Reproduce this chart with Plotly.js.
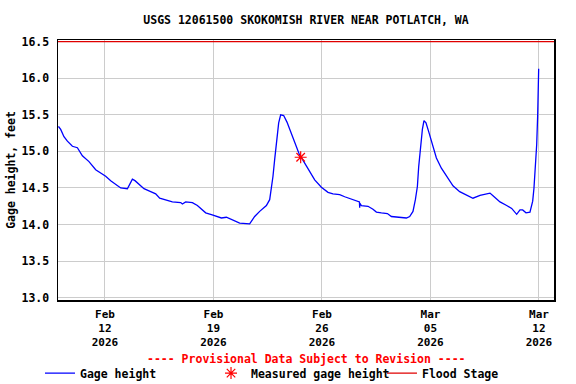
<!DOCTYPE html>
<html>
<head>
<meta charset="utf-8">
<script src="https://cdn.plot.ly/plotly-3.0.1.min.js"></script>
<style>html,body{margin:0;padding:0;background:#fff}#chart{width:576px;height:384px}</style>
</head>
<body>
<div id="chart"></div>
<script>
// Gage height record (time, feet)
const gageTimes = [
'2026-02-09 00:00','2026-02-09 03:24','2026-02-09 08:30','2026-02-09 13:47','2026-02-09 21:32',
'2026-02-10 05:15','2026-02-10 13:00','2026-02-10 23:14','2026-02-11 09:36','2026-02-11 17:21',
'2026-02-12 01:05','2026-02-12 08:50','2026-02-12 16:34','2026-02-13 00:19','2026-02-13 10:41',
'2026-02-13 14:15','2026-02-13 18:26','2026-02-13 22:26','2026-02-14 04:39','2026-02-14 12:23',
'2026-02-14 22:45','2026-02-15 06:30','2026-02-15 12:42','2026-02-15 22:00','2026-02-16 08:21',
'2026-02-16 21:13','2026-02-16 23:51','2026-02-17 04:57','2026-02-17 15:20','2026-02-17 23:04',
'2026-02-18 06:49','2026-02-18 11:56','2026-02-18 23:14','2026-02-19 12:14','2026-02-19 19:58',
'2026-02-20 06:11','2026-02-20 16:34','2026-02-21 08:02','2026-02-21 15:47','2026-02-21 23:32',
'2026-02-22 09:55','2026-02-22 15:01','2026-02-22 17:38','2026-02-22 20:08','2026-02-22 22:45',
'2026-02-23 02:19','2026-02-23 04:57','2026-02-23 08:02','2026-02-23 12:41','2026-02-23 17:48',
'2026-02-23 23:04','2026-02-24 05:44','2026-02-24 12:23','2026-02-24 21:13','2026-02-25 04:57',
'2026-02-25 12:42','2026-02-25 23:04','2026-02-26 09:17','2026-02-26 17:02','2026-02-27 03:24',
'2026-02-27 11:10','2026-02-27 21:32','2026-02-28 07:45','2026-02-28 10:00','2026-02-28 10:22',
'2026-02-28 10:45','2026-02-28 13:00','2026-02-28 23:14','2026-03-01 06:58','2026-03-01 12:14',
'2026-03-01 19:58','2026-03-02 05:15','2026-03-02 11:27','2026-03-02 21:40','2026-03-03 10:41',
'2026-03-03 15:47','2026-03-03 20:54','2026-03-04 00:37','2026-03-04 03:43','2026-03-04 05:44',
'2026-03-04 08:50','2026-03-04 11:27','2026-03-04 13:56','2026-03-04 17:02','2026-03-04 21:13',
'2026-03-05 02:19','2026-03-05 09:08','2026-03-05 16:52','2026-03-06 00:37','2026-03-06 10:50',
'2026-03-06 21:13','2026-03-07 07:35','2026-03-07 17:48','2026-03-08 04:39','2026-03-08 12:23',
'2026-03-08 20:08','2026-03-09 01:15','2026-03-09 11:37','2026-03-09 21:59','2026-03-10 05:44',
'2026-03-10 13:28','2026-03-10 18:35','2026-03-10 22:45','2026-03-11 03:52','2026-03-11 10:03',
'2026-03-11 14:15','2026-03-11 16:15','2026-03-11 18:15','2026-03-11 20:27','2026-03-11 22:00',
'2026-03-11 22:55','2026-03-11 23:32'
];
const gageHeight = [
15.34,15.30,15.20,15.14,15.07,
15.05,14.94,14.86,14.75,14.71,
14.66,14.60,14.55,14.50,14.49,
14.56,14.62,14.60,14.55,14.49,
14.45,14.42,14.36,14.34,14.31,
14.30,14.28,14.31,14.30,14.26,
14.20,14.16,14.13,14.09,14.10,
14.06,14.02,14.01,14.11,14.18,
14.26,14.34,14.48,14.66,14.89,
15.20,15.39,15.50,15.49,15.40,
15.27,15.11,14.97,14.84,14.73,
14.61,14.51,14.44,14.42,14.41,
14.38,14.35,14.32,14.31,14.23,
14.29,14.26,14.25,14.21,14.17,
14.16,14.15,14.11,14.10,14.09,
14.11,14.18,14.34,14.52,14.79,
15.11,15.30,15.42,15.39,15.27,
15.11,14.91,14.77,14.66,14.53,
14.45,14.41,14.36,14.40,14.41,
14.43,14.39,14.31,14.26,14.22,
14.14,14.20,14.20,14.16,14.17,
14.32,14.50,14.77,15.09,15.50,
15.86,16.13
];
// Field measurement
const measuredTimes = ['2026-02-24 15:00'];
const measuredHeight = [14.92];
// Flood stage
const floodTimes = ['2026-02-08 23:15','2026-03-12 23:15'];
const floodStage = [16.5, 16.5];
// Axes
const xRange = ['2026-02-08 23:15','2026-03-12 23:15'];
const xTickVals = ['2026-02-12','2026-02-19','2026-02-26','2026-03-05','2026-03-12'];
const xTickText = ['Feb<br>12<br>2026','Feb<br>19<br>2026','Feb<br>26<br>2026','Mar<br>05<br>2026','Mar<br>12<br>2026'];
const yTickVals = [13.0,13.5,14.0,14.5,15.0,15.5,16.0,16.5];
const yTickText = ['13.0','13.5','14.0','14.5','15.0','15.5','16.0','16.5'];

const F = 'DejaVu Sans Mono, Liberation Mono, monospace';
const fnt = {family: F, size: 11.5, color: '#000', weight: 'bold'};
const xfnt = {family: F, size: 11, color: '#000', weight: 'bold'};

const traces = [
  {x: floodTimes, y: floodStage, type: 'scatter', mode: 'lines', name: 'Flood Stage',
   line: {color: '#e00000', width: 1.3}, legend: 'legend3', hoverinfo: 'skip'},
  {x: gageTimes, y: gageHeight, type: 'scatter', mode: 'lines', name: 'Gage height',
   line: {color: '#0000ff', width: 1.3}, legend: 'legend'},
  {x: measuredTimes, y: measuredHeight, type: 'scatter', mode: 'markers', name: 'Measured gage height',
   marker: {symbol: 'asterisk-open', size: 10, color: '#ff0000', line: {color: '#ff0000', width: 1.2}},
   legend: 'legend2'}
];

const legBase = {orientation: 'h', yanchor: 'middle', xanchor: 'left', y: -0.281,
  font: fnt, bgcolor: 'rgba(0,0,0,0)', borderwidth: 0};

const layout = {
  width: 576, height: 384,
  margin: {l: 58, r: 22, t: 40, b: 84, autoexpand: false},
  paper_bgcolor: '#fff', plot_bgcolor: '#fff',
  font: fnt,
  title: {text: 'USGS 12061500 SKOKOMISH RIVER NEAR POTLATCH, WA', font: fnt,
          x: 0.5, xref: 'paper', xanchor: 'center', y: 1 - 19.5/384, yref: 'container', yanchor: 'middle'},
  xaxis: {type: 'date', range: xRange, tickvals: xTickVals, ticktext: xTickText,
          showgrid: true, gridcolor: '#cccccc', gridwidth: 1,
          showline: true, mirror: true, linecolor: '#000', linewidth: 1.5,
          ticks: 'outside', ticklen: 3, tickcolor: 'rgba(0,0,0,0)', tickfont: xfnt, zeroline: false,
          automargin: false, fixedrange: true},
  yaxis: {range: [12.969, 16.522], tickvals: yTickVals, ticktext: yTickText,
          showgrid: true, gridcolor: '#cccccc', gridwidth: 1,
          showline: true, mirror: true, linecolor: '#000', linewidth: 1.5,
          ticks: 'outside', ticklen: 5, tickcolor: 'rgba(0,0,0,0)', tickfont: fnt, zeroline: false,
          automargin: false,
          title: {text: 'Gage height, feet', font: fnt, standoff: 3}, fixedrange: true},
  showlegend: true,
  legend: Object.assign({}, legBase, {x: -0.0363}),
  legend2: Object.assign({}, legBase, {x: 0.3085}),
  legend3: Object.assign({}, legBase, {x: 0.6532}),
  annotations: [{text: '---- Provisional Data Subject to Revision ----', xref: 'paper', yref: 'paper',
    x: 0.5, y: -0.227, xanchor: 'center', yanchor: 'middle', showarrow: false,
    font: {family: F, size: 11.5, color: '#ff0000', weight: 'bold'}}]
};

Plotly.newPlot('chart', traces, layout, {displayModeBar: false, staticPlot: true});
</script>
</body>
</html>
